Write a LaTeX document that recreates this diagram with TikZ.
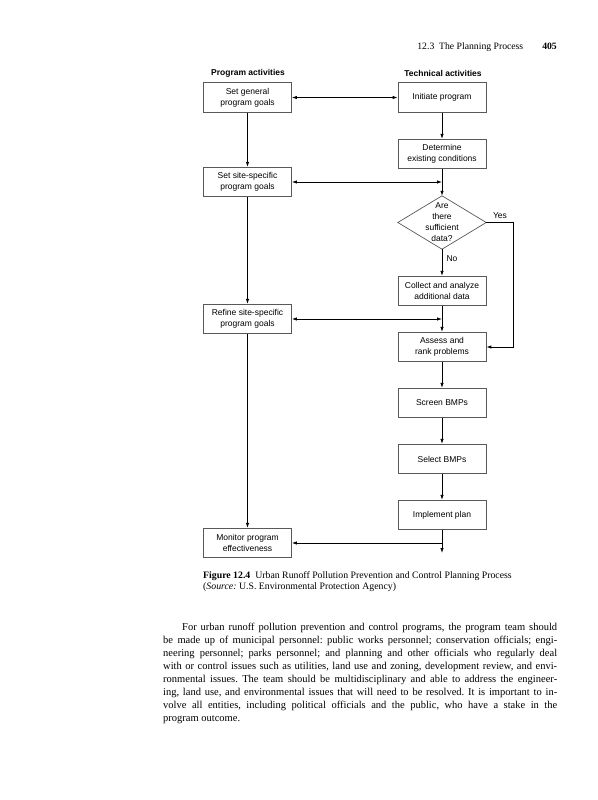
\documentclass[tikz,border=0pt]{standalone}
\usepackage{fontspec}
\setmainfont{Liberation Serif}
\newfontfamily\hv{Liberation Sans}
\usetikzlibrary{arrows.meta}
\frenchspacing
\begin{document}
\begin{tikzpicture}[x=1pt,y=-1pt,
  box/.style={draw=black!65, line width=0.7pt, minimum width=88pt, minimum height=29.5pt, inner sep=0pt, align=center, font=\hv\fontsize{8.5}{11}\selectfont},
  lbl/.style={font=\hv\fontsize{8.5}{11}\selectfont, inner sep=0pt},
  colhead/.style={font=\hv\bfseries\fontsize{8.5}{11}\selectfont, inner sep=0pt},
  conn/.style={line width=0.75pt, -{Latex[length=5pt,width=3.4pt]}},
  both/.style={line width=0.75pt, {Latex[length=5pt,width=3.4pt]}-{Latex[length=5pt,width=3.4pt]}},
  bodyline/.style={anchor=base west, inner sep=0pt, font=\frenchspacing\fontsize{10.5}{13}\selectfont},
  capline/.style={anchor=base west, inner sep=0pt, font=\frenchspacing\fontsize{9.8}{11}\selectfont},
]
\useasboundingbox (0,0) rectangle (597,800);
\fill[white] (0,0) rectangle (597,800);

% running header
\node[anchor=base east, inner sep=0pt, font=\fontsize{9.7}{11}\selectfont] (hdr) at (557,50) {12.3\enspace The Planning Process\hspace{19pt}\textbf{405}};

% column headings
\node[colhead] (hp) at (248,73) {Program activities};
\node[colhead] (ht) at (443,73) {Technical activities};

% program column
\node[box] (pg1) at (247.5,97.5) {Set general\\program goals};
\node[box] (pg2) at (247.5,182) {Set site-specific\\program goals};
\node[box] (pg3) at (247.5,319) {Refine site-specific\\program goals};
\node[box] (pg4) at (247.5,543) {Monitor program\\effectiveness};

% technical column
\node[box] (t1) at (442,97.5) {Initiate program};
\node[box] (t2) at (442,154) {Determine\\existing conditions};
\node[minimum width=88pt, minimum height=53pt, inner sep=0pt, align=center, font=\hv\fontsize{8.5}{11}\selectfont] (d) at (442,222.5) {Are\\there\\sufficient\\data?};
\draw[draw=black!65, line width=0.7pt] (d.north) -- (d.east) -- (d.south) -- (d.west) -- cycle;
\node[box] (t3) at (442,291) {Collect and analyze\\additional data};
\node[box] (t4) at (442,347) {Assess and\\rank problems};
\node[box] (t5) at (442,403) {Screen BMPs};
\node[box] (t6) at (442,459) {Select BMPs};
\node[box] (t7) at (442,515) {Implement plan};

% junctions
\coordinate (j1) at (442,182);
\coordinate (j2) at (442,319);
\coordinate (j3) at (442,543);
\coordinate (e) at (442,553);
\coordinate (y1) at (513,222.5);
\coordinate (y2) at (513,347);

% connectors
\draw[both] (pg1) -- (t1);
\draw[conn] (pg1) -- (pg2);
\draw[conn] (pg2) -- (pg3);
\draw[conn] (pg3) -- (pg4);
\draw[conn] (t1) -- (t2);
\draw[conn] (t2) -- (d.north);
\draw[both] (pg2) -- (j1);
\draw[conn] (d.south) -- (t3);
\draw[conn] (t3) -- (t4);
\draw[both] (pg3) -- (j2);
\draw[conn] (t4) -- (t5);
\draw[conn] (t5) -- (t6);
\draw[conn] (t6) -- (t7);
\draw[conn] (t7) -- (e);
\draw[conn] (j3) -- (pg4);
\draw[conn] (d.east) -- (y1) -- (y2) -- (t4.east);

\node[lbl] (yes) at (500,216) {Yes};
\node[lbl] (no) at (452,259) {No};

% caption
\node[capline] (cap1) at (203,578) {\textbf{Figure 12.4}\enspace Urban Runoff Pollution Prevention and Control Planning Process};
\node[capline] (cap2) at (203,589) {(\textit{Source:} U.S. Environmental Protection Agency)};

% body paragraph
\node[bodyline] (p1) at (182,630) {\makebox[375pt][s]{For urban runoff pollution prevention and control programs, the program team should}};
\node[bodyline] (p2) at (163,643) {\makebox[394pt][s]{be made up of municipal personnel: public works personnel; conservation officials; engi-}};
\node[bodyline] (p3) at (163,656) {\makebox[394pt][s]{neering personnel; parks personnel; and planning and other officials who regularly deal}};
\node[bodyline] (p4) at (163,669) {\makebox[394pt][s]{with or control issues such as utilities, land use and zoning, development review, and envi-}};
\node[bodyline] (p5) at (163,682) {\makebox[394pt][s]{ronmental issues. The team should be multidisciplinary and able to address the engineer-}};
\node[bodyline] (p6) at (163,695) {\makebox[394pt][s]{ing, land use, and environmental issues that will need to be resolved. It is important to in-}};
\node[bodyline] (p7) at (163,708) {\makebox[394pt][s]{volve all entities, including political officials and the public, who have a stake in the}};
\node[bodyline] (p8) at (163,721) {program outcome.};
\end{tikzpicture}
\end{document}
